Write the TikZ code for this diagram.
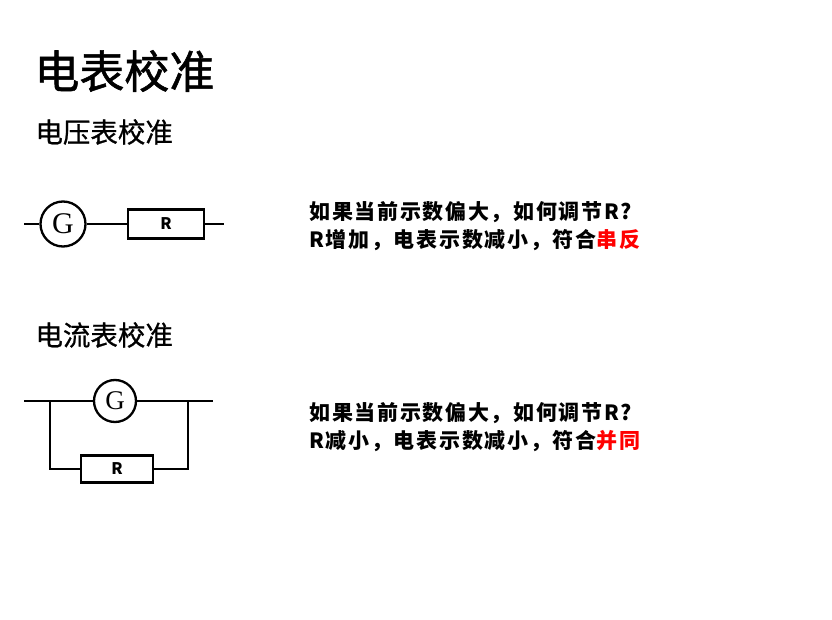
\documentclass[tikz,border=0pt]{standalone}
\usepackage{fontspec}
\usepackage{xcolor}
\usetikzlibrary{positioning}
\setmainfont{Noto Sans CJK SC}
\newfontfamily\serifG{Liberation Serif}
\newfontfamily\spaced[LetterSpace=8]{Noto Sans CJK SC}
\definecolor{hotred}{HTML}{FF0000}

\begin{document}
\begin{tikzpicture}[x=1pt,y=-1pt,line width=2.8pt,
		meter/.style={circle,draw,line width=2.3pt,minimum size=45pt,inner sep=0pt,font=\serifG\fontsize{30}{30}\selectfont},
		resistor/.style={rectangle,draw,line width=2.6pt,minimum width=76pt,minimum height=29pt,inner sep=0pt,font=\bfseries\fontsize{16}{16}\selectfont},
		heading/.style={anchor=west,inner sep=0pt},
		remark/.style={anchor=west,inner sep=0pt,font=\spaced\bfseries\fontsize{21}{21}\selectfont}]
		\useasboundingbox (0,0) rectangle (832,620);
		\node[heading,font=\addfontfeature{FakeBold=1.2}\fontsize{45}{45}\selectfont] (title) at (33,71) {电表校准};
		\node[heading,font=\addfontfeature{FakeBold=0.8}\fontsize{27.5}{27.5}\selectfont] (volt) at (34,132) {电压表校准};
		\node[heading,font=\addfontfeature{FakeBold=0.8}\fontsize{27.5}{27.5}\selectfont] (amp) at (34,335) {电流表校准};
	
		% voltmeter: G in series with R
		\coordinate (a1) at (24,224);
		\node[meter] (g1) at (63,224) {G};
		\node[resistor] (r1) at (166,224) {R};
		\coordinate (b1) at (224,224);
		\draw (a1) -- (g1) -- (r1) -- (b1);
	
		% ammeter: G in parallel with R
		\coordinate (a2) at (24,401);
		\coordinate (j1) at (50,401);
		\node[meter,minimum size=42pt,font=\serifG\fontsize{27}{27}\selectfont] (g2) at (115,401) {G};
		\coordinate (j2) at (188,401);
		\coordinate (b2) at (213,401);
		\node[resistor,minimum width=72pt,minimum height=27pt] (r2) at (117,469) {R};
		\draw (a2) -- (g2) -- (b2);
		\draw (j1) |- (r2) -| (j2);
	
		\node[remark] (q1) at (308,212) {如果当前示数偏大，如何调节R?};
		\node[remark] (q2) at (308,240) {R增加，电表示数减小，符合\textcolor{hotred}{串反}};
		\node[remark] (q3) at (308,413) {如果当前示数偏大，如何调节R?};
		\node[remark] (q4) at (308,441) {R减小，电表示数减小，符合\textcolor{hotred}{并同}};
	\end{tikzpicture}
\end{document}
